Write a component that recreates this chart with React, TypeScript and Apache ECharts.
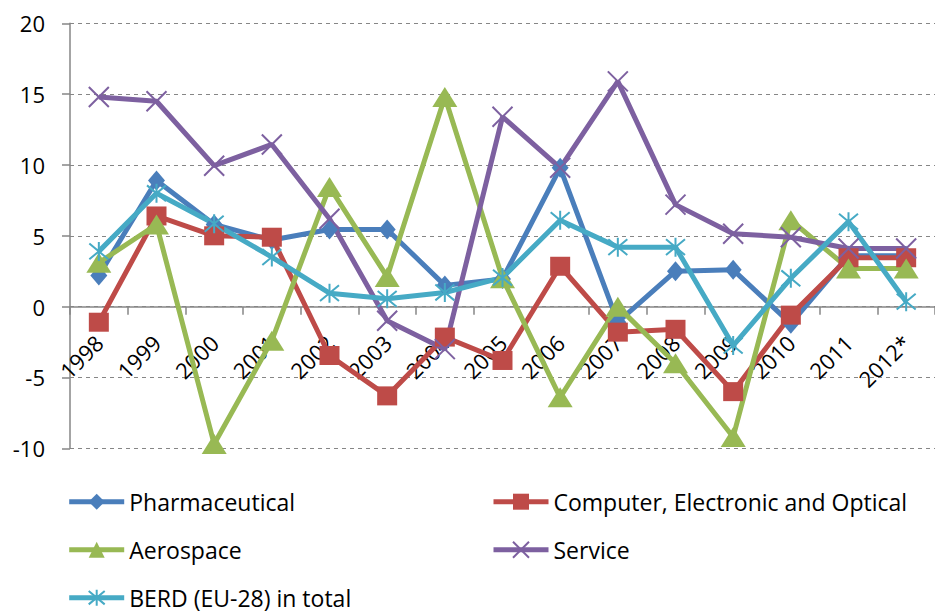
import React, { useEffect, useRef } from "react";
import * as echarts from "echarts";

const categories = ["1998", "1999", "2000", "2001", "2002", "2003", "2004", "2005", "2006", "2007", "2008", "2009", "2010", "2011", "2012*"];
const pharmaceutical = [2.2, 8.9, 5.8, 4.7, 5.45, 5.45, 1.5, 1.95, 9.8, -1.1, 2.5, 2.6, -1.2, 3.6, 3.6];
const computer = [-1.1, 6.4, 5.0, 4.9, -3.45, -6.3, -2.15, -3.8, 2.85, -1.8, -1.6, -6.0, -0.6, 3.45, 3.45];
const aerospace = [3.1, 5.8, -9.7, -2.4, 8.45, 2.1, 14.8, 2.0, -6.4, 0.0, -4.0, -9.2, 6.1, 2.7, 2.7];
const service = [14.8, 14.5, 9.95, 11.45, 6.2, -1.0, -3.0, 13.4, 9.8, 15.9, 7.2, 5.15, 4.9, 4.1, 4.1];
const berd = [3.9, 8.0, 5.85, 3.5, 0.95, 0.55, 1.0, 2.05, 6.1, 4.2, 4.2, -2.75, 2.0, 6.0, 0.35];

const yTicks = { min: -10, max: 20, interval: 5 };

const FONT = "Open Sans";
const AXIS_GRAY = "#868686";

const CROSS = "path://M0,0L20,20M20,0L0,20";
const STAR = "path://M0,0L20,20M20,0L0,20M10,-2L10,22";

export default function App() {
  const ref = useRef<HTMLDivElement>(null);
  useEffect(() => {
    if (!ref.current) return;
    const chart = echarts.init(ref.current, null, { renderer: "svg" });
    const lineW = 5;
    const gridTop = 23.3;
    const gridH = 425;
    const zeroOffset = -gridH * (0 - yTicks.min) / (yTicks.max - yTicks.min);
    const mk = (name: string, data: number[], color: string, symbol: string, size: any, stroke = false) => ({
      name,
      type: "line",
      data,
      symbol,
      symbolSize: size,
      showSymbol: true,
      lineStyle: { color, width: lineW },
      itemStyle: stroke
        ? { color, borderColor: color, borderWidth: 2 }
        : { color, borderWidth: 0 },
      emphasis: { disabled: true },
    });
    const legendText = { fontSize: 23, color: "#000", fontFamily: FONT, lineHeight: 24 };
    const legendCommon = {
      orient: "vertical",
      top: 489.7,
      itemWidth: 55,
      itemHeight: 20,
      itemGap: 24,
      padding: 0,
      textStyle: legendText,
      lineStyle: { width: 5 },
    };
    chart.setOption({
      animation: false,
      grid: { left: 70, top: gridTop, width: 875, height: gridH, containLabel: false },
      legend: [
        { ...legendCommon, data: ["Pharmaceutical", "Aerospace", "BERD (EU-28) in total"], left: 66.7 },
        { ...legendCommon, data: ["Computer, Electronic and Optical", "Service"], left: 491 },
      ],
      xAxis: {
        type: "category",
        data: categories,
        boundaryGap: true,
        position: "bottom",
        offset: zeroOffset,
        axisLine: { show: true, onZero: false, lineStyle: { color: AXIS_GRAY, width: 1.5 } },
        axisTick: { show: true, interval: 0, length: 8, lineStyle: { color: AXIS_GRAY, width: 1.5 } },
        axisLabel: {
          interval: 0,
          rotate: 45,
          margin: 32,
          fontSize: 22,
          color: "#000",
          fontFamily: FONT,
        },
        splitLine: { show: false },
      },
      yAxis: {
        type: "value",
        min: yTicks.min,
        max: yTicks.max,
        interval: yTicks.interval,
        axisLine: { show: true, lineStyle: { color: AXIS_GRAY, width: 1.5 } },
        axisTick: { show: true, length: 8, lineStyle: { color: AXIS_GRAY, width: 1.5 } },
        axisLabel: { margin: 25, fontSize: 22, color: "#000", fontFamily: FONT },
        splitLine: { show: true, lineStyle: { color: AXIS_GRAY, width: 1, type: [4, 4] } },
      },
      series: [
        mk("Pharmaceutical", pharmaceutical, "#4A7EBB", "diamond", [17, 20]),
        mk("Computer, Electronic and Optical", computer, "#BE4B48", "rect", [20, 19]),
        mk("Aerospace", aerospace, "#98B954", "triangle", [25, 20]),
        mk("Service", service, "#7D60A0", CROSS, 20, true),
        mk("BERD (EU-28) in total", berd, "#46AAC5", STAR, 19, true),
      ],
    });
    return () => chart.dispose();
  }, []);
  return (
    <div
      ref={ref}
      style={{ position: "absolute", left: 0, top: 0, width: 935, height: 613, background: "#fff" }}
    />
  );
}
